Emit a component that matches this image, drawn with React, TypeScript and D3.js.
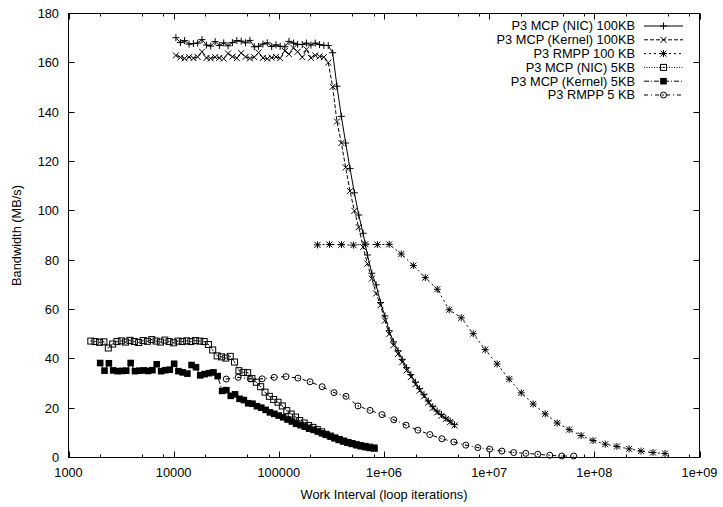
import React, { useEffect, useRef } from 'react';
import { select, scaleLog, scaleLinear, line } from 'd3';

// loop iterations (x) for the two 100KB MCP runs
const workLarge = [
  10500, 11600, 12700, 14000, 15400, 16900, 18600, 20500, 22500, 24800,
  27200, 29900, 32900, 36200, 39900, 43900, 48200, 53100, 58400, 64200,
  70600, 77700, 85500, 94000, 103000, 114000, 125000, 138000, 151000, 167000,
  183000, 202000, 222000, 244000, 268000, 295000, 325000, 357000, 393000, 432000,
  475000, 523000, 575000, 633000, 696000, 766000, 842000, 926000, 1020000, 1120000,
  1230000, 1360000, 1490000, 1640000, 1800000, 1990000, 2180000, 2400000, 2640000, 2910000,
  3200000, 3520000, 3870000, 4260000, 4680000,
];
const nic100 = [
  170.2, 168.2, 169.0, 167.6, 167.8, 168.0, 169.4, 167.2, 166.8, 168.6,
  167.0, 168.1, 166.9, 168.2, 169.0, 168.8, 168.1, 169.1, 166.5, 166.7,
  167.6, 168.1, 166.6, 167.3, 166.7, 166.5, 168.7, 168.0, 167.5, 167.4,
  168.0, 167.2, 168.0, 167.4, 167.1, 167.0, 164.1, 150.5, 138.3, 127.5,
  117.2, 107.3, 98.3, 90.9, 82.1, 74.7, 70.0, 62.8, 57.4, 51.4,
  46.9, 43.3, 39.8, 36.4, 33.6, 30.5, 27.9, 25.5, 22.9, 20.6,
  18.8, 17.4, 16.0, 14.8, 13.3,
];
const kernel100 = [
  163.0, 162.2, 161.8, 162.3, 161.9, 162.4, 164.5, 162.0, 161.8, 162.3,
  162.0, 161.7, 163.8, 162.5, 161.9, 164.0, 162.4, 161.8, 162.3, 164.2,
  162.0, 161.7, 162.1, 162.4, 161.9, 164.8, 163.5, 166.0, 164.5, 162.3,
  165.5, 162.0, 163.0, 162.6, 162.3, 160.1, 150.3, 136.2, 127.5, 117.6,
  108.0, 100.0, 93.4, 85.3, 78.6, 72.5, 66.5, 61.7, 55.5, 50.0,
  45.5, 42.0, 38.6, 35.3, 32.6, 29.7, 27.1, 24.8, 22.3, 20.1,
  18.3, 16.9, 15.6, 14.4, 13.0,
];

const workRmpp100 = [
  233000, 303000, 394000, 512000, 665000, 865000, 1120000, 1460000, 1900000, 2470000,
  3210000, 4170000, 5430000, 7050000, 9170000, 11900000, 15500000, 20200000, 26200000, 34100000,
  44300000, 57600000, 74900000, 97300000, 127000000, 164000000, 214000000, 278000000, 361000000, 470000000,
];
const rmpp100 = [
  86.2, 86.4, 86.3, 86.1, 86.5, 86.3, 86.4, 82.5, 77.8, 72.9,
  68.2, 59.9, 56.6, 50.2, 43.7, 37.9, 31.8, 26.2, 21.7, 17.7,
  14.0, 11.3, 8.9, 6.9, 5.4, 4.5, 3.5, 2.6, 2.0, 1.6,
];

const workNic5 = [
  1630, 1790, 1970, 2170, 2390, 2630, 2890, 3180, 3490, 3840,
  4230, 4650, 5120, 5630, 6190, 6810, 7490, 8240, 9060, 9970,
  11000, 12100, 13300, 14600, 16100, 17700, 19500, 21400, 23500, 25900,
  28500, 31300, 34500, 37900, 41700, 45900, 50500, 55500, 61100, 67200,
  73900, 81200, 89300, 98200, 108000, 119000, 131000, 144000, 158000, 174000,
  192000, 211000, 232000, 255000, 280000, 308000, 339000, 373000, 410000, 451000,
  496000, 546000, 600000, 661000, 727000, 800000,
];
const nic5 = [
  47.2, 47.0, 46.7, 46.9, 44.4, 46.0, 47.0, 47.3, 46.8, 47.5,
  47.0, 46.6, 47.4, 47.1, 47.8, 47.2, 46.8, 47.6, 47.0, 46.5,
  47.2, 47.0, 47.3, 47.0, 47.4, 47.2, 47.0, 45.8, 43.6, 41.2,
  40.8, 40.3, 41.0, 38.7, 35.2, 34.5, 34.4, 32.0, 30.5, 28.7,
  26.5, 24.8, 23.5, 22.4, 20.9, 19.0, 17.6, 16.4, 15.0, 14.0,
  13.0, 12.2, 11.3, 10.4, 9.4, 8.7, 7.9, 7.2, 6.6, 6.1,
  5.6, 5.2, 4.8, 4.5, 4.2, 3.9,
];

const workKernel5 = [
  2000, 2200, 2420, 2660, 2930, 3220, 3540, 3900, 4290, 4720,
  5190, 5710, 6280, 6900, 7600, 8350, 9190, 10100, 11100, 12200,
  13500, 14800, 16300, 17900, 19700, 21700, 23900, 26200, 28900, 31700,
  34900, 38400, 42300, 46500, 51100, 56200, 61900, 68100, 74900, 82300,
  90500, 99600, 110000, 121000, 133000, 146000, 161000, 177000, 194000, 214000,
  235000, 258000, 284000, 313000, 344000, 378000, 416000, 458000, 503000, 554000,
  609000, 670000, 737000, 811000,
];
const kernel5 = [
  38.3, 35.2, 38.2, 35.3, 35.0, 35.1, 35.2, 38.3, 35.0, 35.2,
  35.3, 35.1, 35.4, 37.8, 35.0, 35.4, 35.6, 38.0, 35.0, 34.5,
  34.0, 37.5, 36.6, 33.3, 33.8, 34.2, 34.5, 33.0, 27.0, 27.3,
  25.0, 25.6, 23.8, 23.3, 22.0, 21.8, 20.8, 20.2, 19.3, 18.3,
  17.7, 17.0, 16.3, 15.4, 14.6, 13.7, 13.1, 12.5, 11.7, 11.2,
  10.5, 9.8, 9.2, 8.5, 7.9, 7.3, 6.7, 6.1, 5.6, 5.0,
  4.6, 4.2, 3.9, 3.7,
];

const workRmpp5 = [
  31600, 41100, 53400, 69400, 90300, 117000, 152000, 198000, 258000, 335000,
  435000, 566000, 736000, 957000, 1240000, 1620000, 2100000, 2730000, 3550000, 4620000,
  6000000, 7800000, 10100000, 13200000, 17100000, 22300000, 29000000, 37700000, 49000000, 63700000,
];
const rmpp5 = [
  31.8, 32.5, 31.9, 31.9, 32.5, 32.8, 32.2, 30.7, 28.7, 26.3,
  24.8, 20.9, 19.1, 17.4, 15.3, 13.1, 11.1, 9.3, 7.6, 6.3,
  5.0, 4.0, 3.4, 2.6, 2.0, 1.7, 1.3, 0.9, 0.6, 0.6,
];

const seriesNames = [
  'P3 MCP (NIC) 100KB',
  'P3 MCP (Kernel) 100KB',
  'P3 RMPP 100 KB',
  'P3 MCP (NIC) 5KB',
  'P3 MCP (Kernel) 5KB',
  'P3 RMPP 5 KB',
];

const xTickValues = [1e3, 1e4, 1e5, 1e6, 1e7, 1e8, 1e9];
const xTickLabels = ['1000', '10000', '100000', '1e+06', '1e+07', '1e+08', '1e+09'];
const xMinorSteps = [2, 5, 8];
const yTickValues = [0, 20, 40, 60, 80, 100, 120, 140, 160, 180];

const FONT = '"Liberation Sans", Arial, Helvetica, sans-serif';

const drawMarker = (g, type, cx, cy) => {
  if (type === 'plus') {
    g.append('path').attr('d', `M${cx - 3.5},${cy}H${cx + 3.5}M${cx},${cy - 3.5}V${cy + 3.5}`)
      .attr('stroke', '#000').attr('fill', 'none');
  } else if (type === 'cross') {
    g.append('path').attr('d', `M${cx - 3},${cy - 3}L${cx + 3},${cy + 3}M${cx - 3},${cy + 3}L${cx + 3},${cy - 3}`)
      .attr('stroke', '#000').attr('fill', 'none');
  } else if (type === 'star') {
    g.append('path').attr('d',
      `M${cx - 3.5},${cy}H${cx + 3.5}M${cx},${cy - 3.5}V${cy + 3.5}` +
      `M${cx - 3},${cy - 3}L${cx + 3},${cy + 3}M${cx - 3},${cy + 3}L${cx + 3},${cy - 3}`)
      .attr('stroke', '#000').attr('fill', 'none');
  } else if (type === 'box') {
    g.append('rect').attr('x', cx - 3).attr('y', cy - 3).attr('width', 6).attr('height', 6)
      .attr('stroke', '#000').attr('fill', 'none');
    g.append('rect').attr('x', cx - 0.5).attr('y', cy - 0.5).attr('width', 1).attr('height', 1).attr('fill', '#000');
  } else if (type === 'fbox') {
    g.append('rect').attr('x', cx - 3.3).attr('y', cy - 3.3).attr('width', 6.6).attr('height', 6.6)
      .attr('fill', '#000');
  } else if (type === 'circle') {
    g.append('circle').attr('cx', cx).attr('cy', cy).attr('r', 3)
      .attr('stroke', '#000').attr('fill', 'none');
    g.append('rect').attr('x', cx - 0.5).attr('y', cy - 0.5).attr('width', 1).attr('height', 1).attr('fill', '#000');
  }
};

const App = () => {
  const ref = useRef(null);

  useEffect(() => {
    const svg = select(ref.current);
    svg.selectAll('*').remove();

    const left = 68.5, right = 699.5, top = 13.5, bottom = 457.5;

    const x = scaleLog().domain([1e3, 1e9]).range([left, right]);
    const y = scaleLinear().domain([0, 180]).range([bottom, top]);

    const series = [
      { xs: workLarge, ys: nic100, dash: null, marker: 'plus' },
      { xs: workLarge, ys: kernel100, dash: '4,2', marker: 'cross' },
      { xs: workRmpp100, ys: rmpp100, dash: '2,3', marker: 'star' },
      { xs: workNic5, ys: nic5, dash: '1,1.5', marker: 'box' },
      { xs: workKernel5, ys: kernel5, dash: '5,2,1,2', marker: 'fbox' },
      { xs: workRmpp5, ys: rmpp5, dash: '4,3,1,3', marker: 'circle' },
    ];

    svg.append('rect').attr('width', 723).attr('height', 507).attr('fill', '#fff');

    // ticks (mirrored on all four sides, pointing inward)
    const ticks = svg.append('g').attr('stroke', '#000').attr('stroke-width', 1);
    xTickValues.forEach((v, i) => {
      const px = Math.round(x(v)) + 0.5;
      ticks.append('line').attr('x1', px).attr('x2', px).attr('y1', bottom).attr('y2', bottom - 6);
      ticks.append('line').attr('x1', px).attr('x2', px).attr('y1', top).attr('y2', top + 6);
      if (i < xTickValues.length - 1) {
        xMinorSteps.forEach((m) => {
          const mx = Math.round(x(v * m)) + 0.5;
          ticks.append('line').attr('x1', mx).attr('x2', mx).attr('y1', bottom).attr('y2', bottom - 3);
          ticks.append('line').attr('x1', mx).attr('x2', mx).attr('y1', top).attr('y2', top + 3);
        });
      }
    });
    yTickValues.forEach((v) => {
      const py = Math.round(y(v) - 0.5) + 0.5;
      ticks.append('line').attr('x1', left).attr('x2', left + 6).attr('y1', py).attr('y2', py);
      ticks.append('line').attr('x1', right).attr('x2', right - 6).attr('y1', py).attr('y2', py);
    });

    // tick labels
    const labels = svg.append('g').attr('font-family', FONT).attr('font-size', 12.8).attr('fill', '#000');
    xTickValues.forEach((v, i) => {
      labels.append('text').attr('x', x(v)).attr('y', 477).attr('text-anchor', 'middle').text(xTickLabels[i]);
    });
    yTickValues.forEach((v) => {
      labels.append('text').attr('x', 59).attr('y', y(v)).attr('dy', '0.35em').attr('text-anchor', 'end').text(v);
    });
    labels.append('text').attr('x', (left + right) / 2).attr('y', 499).attr('text-anchor', 'middle')
      .text('Work Interval (loop iterations)');
    labels.append('text').attr('transform', `translate(21,${(top + bottom) / 2}) rotate(-90)`)
      .attr('text-anchor', 'middle').text('Bandwidth (MB/s)');

    // data
    const lineGen = line().x((d) => x(d[0])).y((d) => y(d[1]));
    series.forEach((s) => {
      const pts = s.xs.map((v, i) => [v, s.ys[i]]);
      const g = svg.append('g');
      g.append('path').attr('d', lineGen(pts)).attr('fill', 'none').attr('stroke', '#000')
        .attr('stroke-width', 1).attr('stroke-dasharray', s.dash);
      pts.forEach((p) => drawMarker(g, s.marker, x(p[0]), y(p[1])));
    });

    // legend
    const legend = svg.append('g');
    seriesNames.forEach((name, i) => {
      const ly = 26 + i * 13.8;
      legend.append('text').attr('x', 635).attr('y', ly).attr('dy', '0.35em').attr('text-anchor', 'end')
        .attr('font-family', FONT).attr('font-size', 12.8).text(name);
      legend.append('line').attr('x1', 644).attr('x2', 683).attr('y1', ly).attr('y2', ly)
        .attr('stroke', '#000').attr('stroke-dasharray', series[i].dash);
      drawMarker(legend, series[i].marker, 663.5, ly);
    });

    // frame
    svg.append('rect').attr('x', left).attr('y', top).attr('width', right - left).attr('height', bottom - top)
      .attr('fill', 'none').attr('stroke', '#000').attr('stroke-width', 1);
  }, []);

  return (
    <svg ref={ref} width={723} height={507} style={{ position: 'absolute', left: 0, top: 0, display: 'block' }}></svg>
  );
};

export default App;
